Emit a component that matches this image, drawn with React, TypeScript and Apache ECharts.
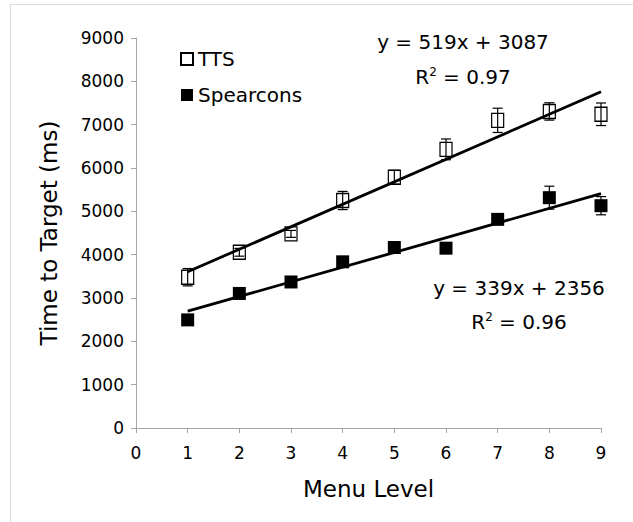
import React, { useEffect, useRef } from "react";
import * as echarts from "echarts";

const menuLevels = [1, 2, 3, 4, 5, 6, 7, 8, 9];
const ttsMean = [3480, 4055, 4480, 5250, 5785, 6430, 7100, 7305, 7240];
const ttsErr = [200, 90, 80, 210, 160, 240, 280, 200, 260];
const spearconsMean = [2495, 3105, 3370, 3835, 4165, 4150, 4815, 5315, 5130];
const spearconsErr = [0, 0, 0, 0, 0, 0, 0, 265, 210];
const ttsTrend = [[1, 3606], [9, 7758]];
const spearconsTrend = [[1, 2695], [9, 5407]];
const xTicks = [0, 1, 2, 3, 4, 5, 6, 7, 8, 9];
const yTicks = [0, 1000, 2000, 3000, 4000, 5000, 6000, 7000, 8000, 9000];
const ttsEquation = "y = 519x + 3087";
const ttsR2 = " = 0.97";
const spearconsEquation = "y = 339x + 2356";
const spearconsR2 = " = 0.96";

const FONT = "DejaVu Sans";

function errorSeries(name: string, means: number[], errs: number[]) {
  const data = menuLevels.map((x, i) => [x, means[i] - errs[i], means[i] + errs[i]]);
  return {
    type: "custom",
    name: name + " err",
    z: 5,
    silent: true,
    data,
    renderItem: (params: any, api: any) => {
      const x = api.value(0);
      const lo = api.coord([x, api.value(1)]);
      const hi = api.coord([x, api.value(2)]);
      if (Math.abs(hi[1] - lo[1]) < 1) return { type: "group", children: [] };
      const half = 5;
      const style = { stroke: "#000", lineWidth: 1.2 };
      return {
        type: "group",
        children: [
          { type: "line", shape: { x1: lo[0], y1: lo[1], x2: hi[0], y2: hi[1] }, style },
          { type: "line", shape: { x1: lo[0] - half, y1: lo[1], x2: lo[0] + half, y2: lo[1] }, style },
          { type: "line", shape: { x1: hi[0] - half, y1: hi[1], x2: hi[0] + half, y2: hi[1] }, style },
        ],
      };
    },
  };
}

function r2Text(x: number, y: number, rest: string) {
  return {
    type: "text",
    x,
    y,
    z: 20,
    style: {
      text: "{m|R}{s|2}{m|" + rest + "}",
      align: "center",
      verticalAlign: "middle",
      rich: {
        m: { fontFamily: FONT, fontSize: 20, lineHeight: 22, fill: "#000", color: "#000" },
        s: { fontFamily: FONT, fontSize: 12, lineHeight: 12, verticalAlign: "top", fill: "#000", color: "#000" },
      },
    },
  };
}

export default function App() {
  const ref = useRef<HTMLDivElement>(null);
  useEffect(() => {
    if (!ref.current) return;
    const chart = echarts.init(ref.current, undefined, { renderer: "svg" });
    chart.setOption({
      animation: false,
      backgroundColor: "#fff",
      textStyle: { fontFamily: FONT },
      grid: { left: 136, right: 32, top: 38, bottom: 94, containLabel: false },
      legend: {
        orient: "vertical",
        left: 180,
        top: 49,
        padding: 0,
        itemWidth: 12,
        itemHeight: 12,
        itemGap: 16,
        textStyle: { fontFamily: FONT, fontSize: 20, color: "#000" },
        data: ["TTS", "Spearcons"],
      },
      xAxis: {
        type: "value",
        min: xTicks[0],
        max: xTicks[xTicks.length - 1],
        interval: 1,
        name: "Menu Level",
        nameLocation: "middle",
        nameGap: 49,
        nameTextStyle: { fontFamily: FONT, fontSize: 23, color: "#000" },
        axisLine: { lineStyle: { color: "#a6a6a6", width: 1 } },
        axisTick: { show: true, length: 5, lineStyle: { color: "#a6a6a6" } },
        axisLabel: { fontFamily: FONT, fontSize: 17, color: "#000", margin: 16, formatter: (v: number) => String(v) },
        splitLine: { show: false },
      },
      yAxis: {
        type: "value",
        min: yTicks[0],
        max: yTicks[yTicks.length - 1],
        interval: 1000,
        name: "Time to Target (ms)",
        nameLocation: "middle",
        nameGap: 76,
        nameRotate: 90,
        nameTextStyle: { fontFamily: FONT, fontSize: 23, color: "#000" },
        axisLine: { show: true, lineStyle: { color: "#a6a6a6", width: 1 } },
        axisTick: { show: true, length: 5, lineStyle: { color: "#a6a6a6" } },
        axisLabel: { fontFamily: FONT, fontSize: 17, color: "#000", margin: 12, formatter: (v: number) => String(v) },
        splitLine: { show: false },
      },
      series: [
        {
          name: "TTS",
          type: "scatter",
          symbol: "rect",
          symbolSize: [12, 14],
          z: 3,
          itemStyle: { color: "#fff", borderColor: "#000", borderWidth: 1.3, opacity: 1 },
          data: menuLevels.map((x, i) => [x, ttsMean[i]]),
        },
        {
          name: "Spearcons",
          type: "scatter",
          symbol: "rect",
          symbolSize: [13, 13],
          z: 3,
          itemStyle: { color: "#000", opacity: 1 },
          data: menuLevels.map((x, i) => [x, spearconsMean[i]]),
        },
        errorSeries("TTS", ttsMean, ttsErr),
        errorSeries("Spearcons", spearconsMean, spearconsErr),
        {
          name: "TTS trend",
          type: "line",
          symbol: "none",
          z: 6,
          silent: true,
          lineStyle: { color: "#000", width: 2.8 },
          data: ttsTrend,
        },
        {
          name: "Spearcons trend",
          type: "line",
          symbol: "none",
          z: 6,
          silent: true,
          lineStyle: { color: "#000", width: 2.8 },
          data: spearconsTrend,
        },
      ],
      graphic: [
        { type: "line", shape: { x1: 11, y1: 4.5, x2: 633, y2: 4.5 }, style: { stroke: "#dcdcdc", lineWidth: 1 } },
        { type: "line", shape: { x1: 10.5, y1: 4, x2: 10.5, y2: 522 }, style: { stroke: "#dcdcdc", lineWidth: 1 } },
        {
          type: "text",
          x: 463,
          y: 42,
          z: 20,
          style: { text: ttsEquation, fontFamily: FONT, fontSize: 20, fill: "#000", align: "center", verticalAlign: "middle" },
        },
        r2Text(463, 77, ttsR2),
        {
          type: "text",
          x: 519,
          y: 288,
          z: 20,
          style: { text: spearconsEquation, fontFamily: FONT, fontSize: 20, fill: "#000", align: "center", verticalAlign: "middle" },
        },
        r2Text(519, 322, spearconsR2),
      ],
    });
    return () => chart.dispose();
  }, []);
  return <div ref={ref} style={{ position: "absolute", left: 0, top: 0, width: 633, height: 522 }} />;
}
